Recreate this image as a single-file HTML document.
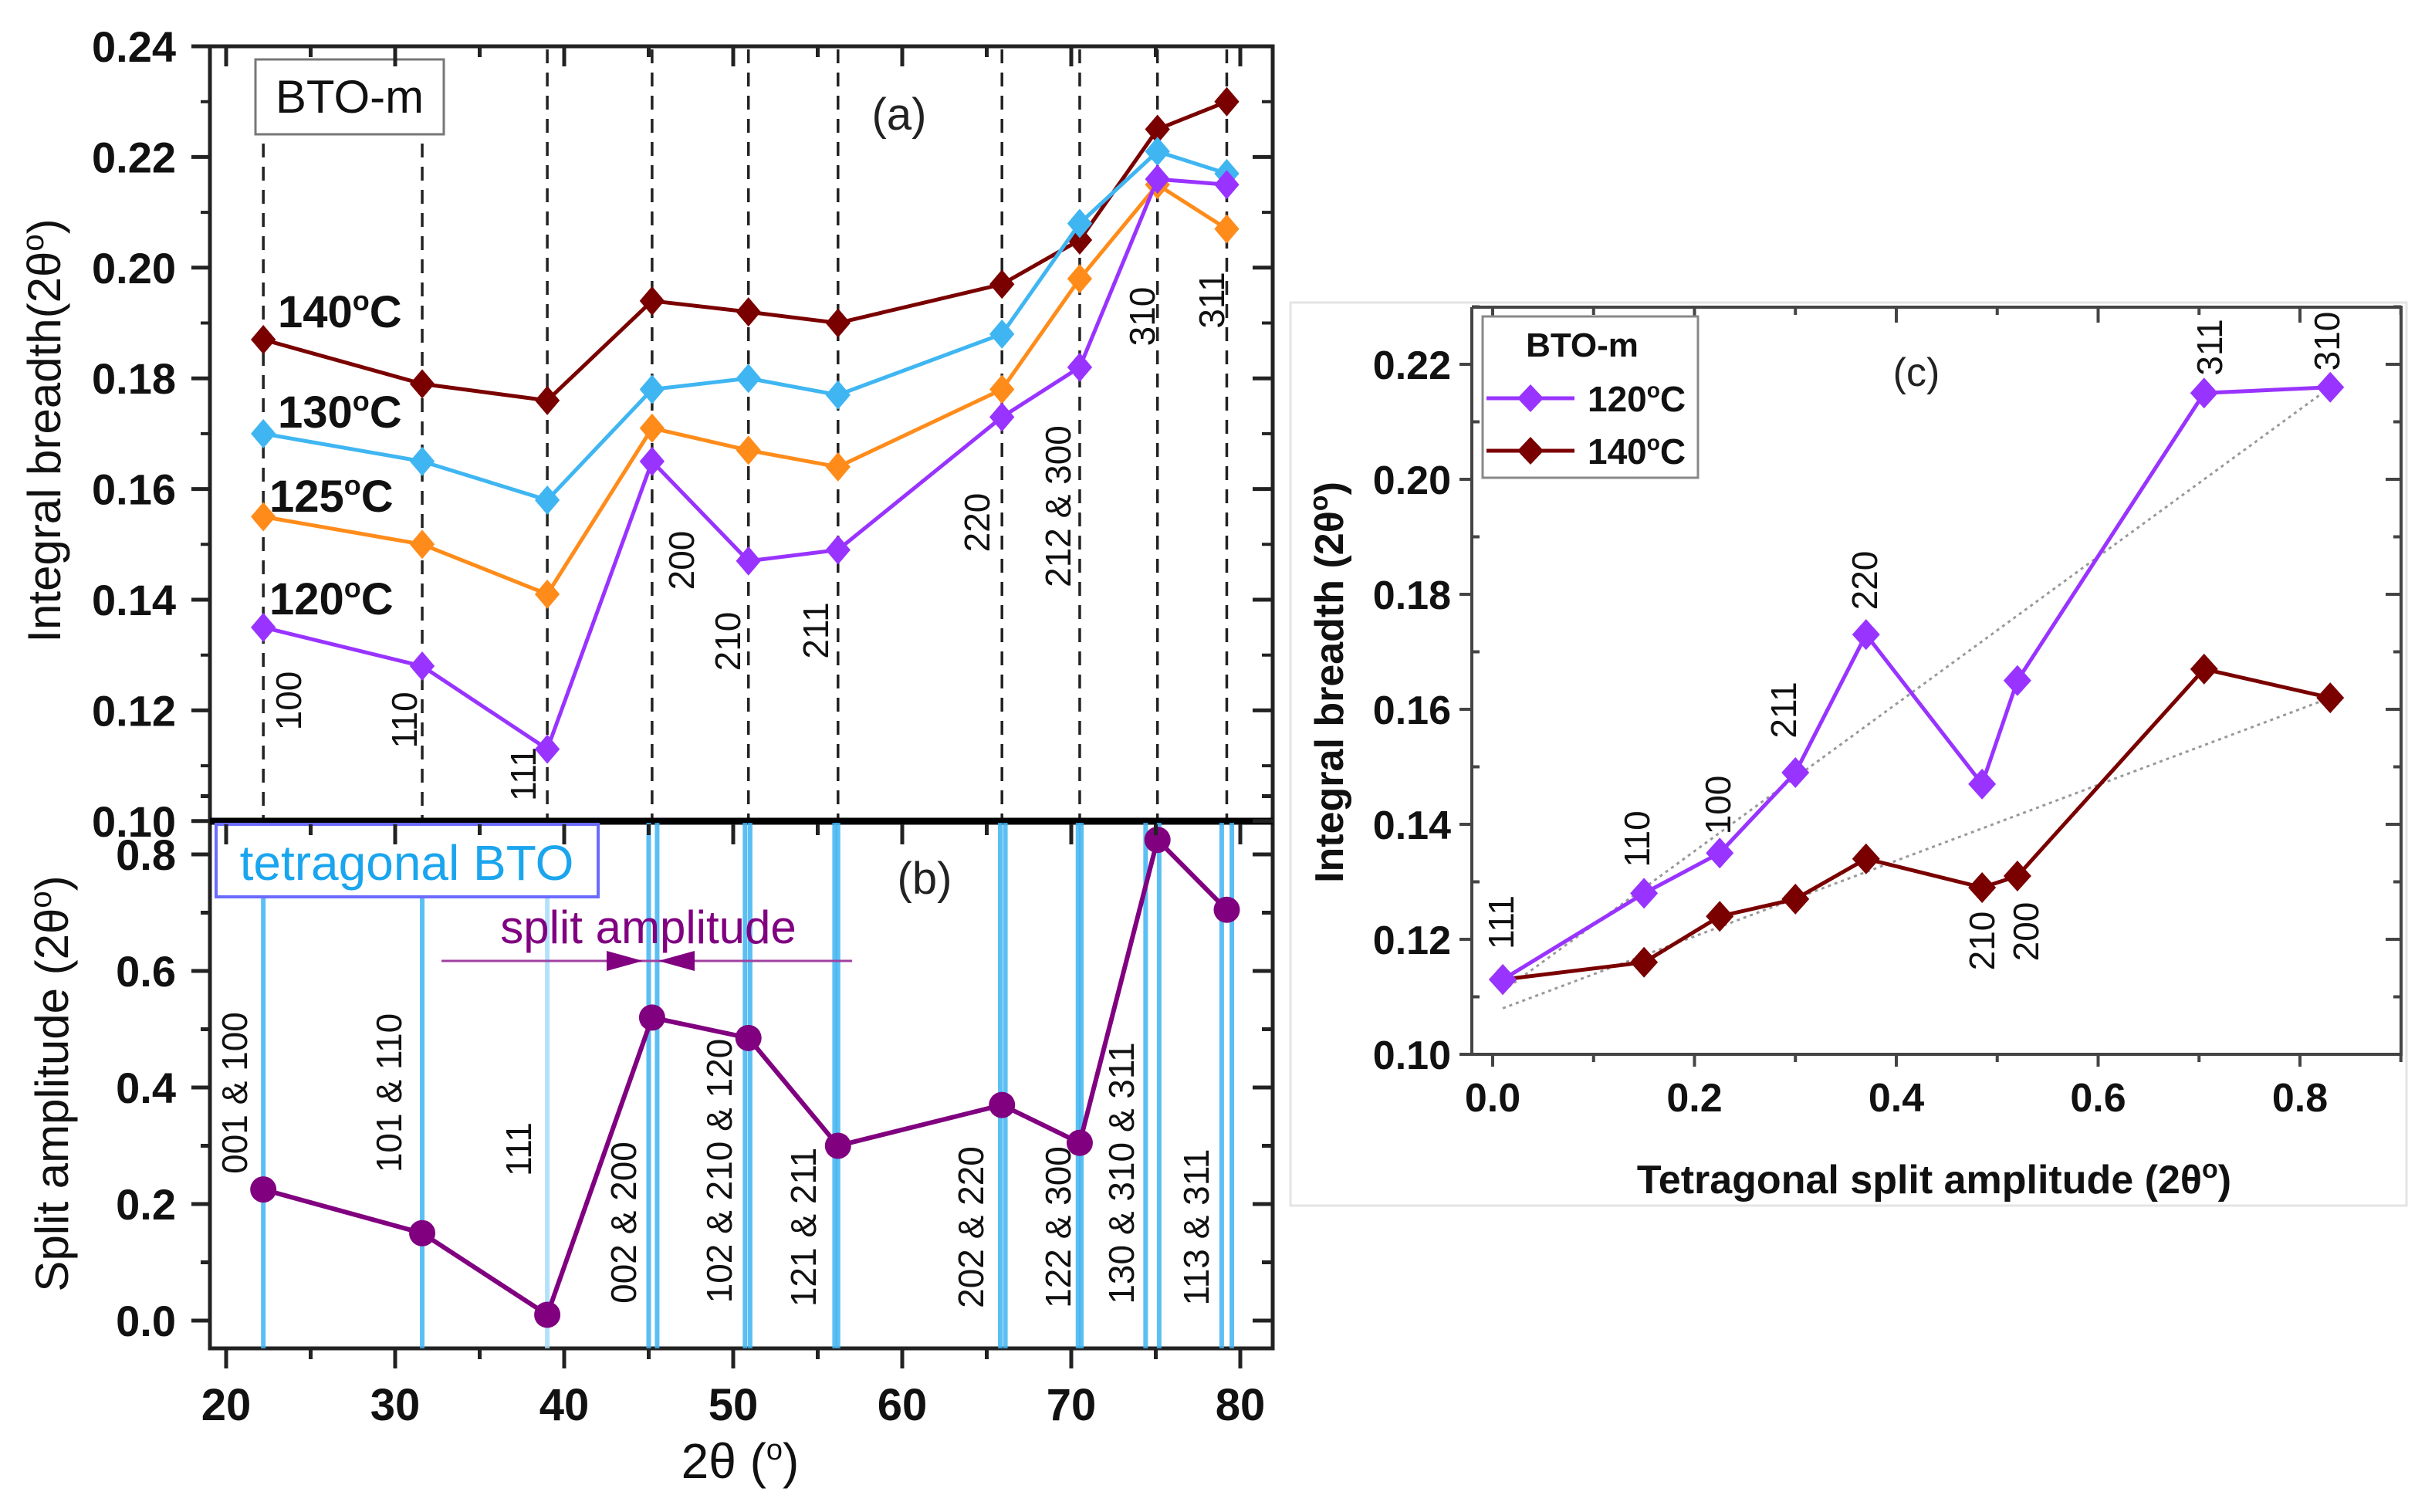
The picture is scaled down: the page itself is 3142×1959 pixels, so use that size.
<!DOCTYPE html>
<html><head><meta charset="utf-8"><style>
html,body{margin:0;padding:0;background:#fff;}
svg{display:block;font-family:"Liberation Sans",sans-serif;}
</style></head><body>
<svg id="fig" width="3142" height="1959" viewBox="0 0 3142 1959" xmlns="http://www.w3.org/2000/svg">
<rect x="0" y="0" width="3142" height="1959" fill="#fff"/>
<rect x="1672" y="392" width="1446" height="1170" fill="#fff" stroke="#e4e4e4" stroke-width="3"/>
<g id="gA"></g>
<g id="gB"></g>
<g id="gC"></g>
</svg>
<script>
// ---------- data ----------
const peakPos = [22.2, 31.6, 39.0, 45.2, 50.9, 56.2, 65.9, 70.5, 75.1, 79.2];
const peakLabelsA = ["100","110","111","200","210","211","220","212 & 300","310","311"];
const ib140 = [0.187, 0.179, 0.176, 0.194, 0.192, 0.190, 0.197, 0.205, 0.225, 0.230];
const ib130 = [0.170, 0.165, 0.158, 0.178, 0.180, 0.177, 0.188, 0.208, 0.221, 0.217];
const ib125 = [0.155, 0.150, 0.141, 0.171, 0.167, 0.164, 0.178, 0.198, 0.215, 0.207];
const ib120 = [0.135, 0.128, 0.113, 0.165, 0.147, 0.149, 0.173, 0.182, 0.216, 0.215];
const splitAmp = [0.225, 0.15, 0.01, 0.52, 0.485, 0.30, 0.37, 0.305, 0.825, 0.705];
const tetraLines = [22.2, 31.6, 39.0, 45.0, 45.5, 50.7, 51.0, 56.0, 56.2, 65.8, 66.1, 70.4, 70.6, 74.4, 75.2, 78.9, 79.5];
const peakLabelsB = ["001 & 100","101 & 110","111","002 & 200","102 & 210 & 120","121 & 211","202 & 220","122 & 300","130 & 310 & 311","113 & 311"];
const ticksA = [0.10,0.12,0.14,0.16,0.18,0.20,0.22,0.24];
const ticksB = [0.0,0.2,0.4,0.6,0.8];
const ticksX = [20,30,40,50,60,70,80];
const cX = [0.01, 0.15, 0.225, 0.30, 0.37, 0.485, 0.52, 0.705, 0.83];
const c120 = [0.113, 0.128, 0.135, 0.149, 0.173, 0.147, 0.165, 0.215, 0.216];
const c140 = [0.113, 0.116, 0.124, 0.127, 0.134, 0.129, 0.131, 0.167, 0.162];
const cLabels = ["111","110","100","211","220","210","200","311","310"];
const fit120 = [[0.01,0.111],[0.83,0.216]];
const fit140 = [[0.01,0.108],[0.83,0.162]];
const ticksCX = [0.0,0.2,0.4,0.6,0.8];
const ticksCY = [0.10,0.12,0.14,0.16,0.18,0.20,0.22];

const NS="http://www.w3.org/2000/svg";
function mk(parent,tag,attrs,text){const e=document.createElementNS(NS,tag);for(const k in attrs)e.setAttribute(k,attrs[k]);if(text!==undefined)e.textContent=text;parent.appendChild(e);return e;}

// ---------- scales ----------
const xAB = v => 293 + (v-20)*21.9;
const yA = v => 60 + (0.24-v)/0.02*143.4;
const yB = v => 1711 - v/0.2*151;
const xC = v => 1934 + v/0.2*261.5;
const yC = v => 1366 - (v-0.10)/0.02*149;
const L=272,R=1649;

const gA=document.getElementById('gA'),gB=document.getElementById('gB'),gC=document.getElementById('gC');

// ---------- panel B ----------
tetraLines.forEach((p,i)=>{
  const l=mk(gB,'line',{x1:xAB(p),x2:xAB(p),y1:1066,y2:1747,stroke:(i==2?'#a8dcfa':'#3fb4f2'),'stroke-width':6,opacity:0.85});
  
  
});
let t=mk(gB,'rect',{x:280,y:1068,width:495,height:94,fill:'#fff',stroke:'#6b6bff','stroke-width':4});

t=mk(gB,'text',{x:527,y:1140,'font-size':64,fill:'#1aa5ee','text-anchor':'middle'},'tetragonal BTO');

t=mk(gB,'text',{x:1198,y:1158,'font-size':58,fill:'#222','text-anchor':'middle'},'(b)');

t=mk(gB,'text',{x:840,y:1222,'font-size':60,fill:'#800080','text-anchor':'middle'},'split amplitude');

t=mk(gB,'line',{x1:572,x2:1104,y1:1245,y2:1245,stroke:'#a040a0','stroke-width':3});

t=mk(gB,'polygon',{points:'786,1232 833,1245 786,1258',fill:'#800080'});

t=mk(gB,'polygon',{points:'900,1232 853,1245 900,1258',fill:'#800080'});

const bLabPos=[[304,1416],[504,1416],[672,1489],[808,1584],[932,1517],[1041,1590],[1258,1590],[1371,1590],[1453,1520],[1550,1590]];
peakLabelsB.forEach((s,i)=>{
  const [cx,cy]=bLabPos[i];
  const e=mk(gB,'text',{x:cx,y:cy+16,'font-size':46,fill:'#111','text-anchor':'middle',transform:`rotate(-90 ${cx} ${cy})`},s);
  
  
});
t=mk(gB,'polyline',{points:peakPos.map((p,i)=>xAB(p)+','+yB(splitAmp[i])).join(' '),fill:'none',stroke:'#800080','stroke-width':6});

peakPos.forEach((p,i)=>{
  const c=mk(gB,'circle',{cx:xAB(p),cy:yB(splitAmp[i]),r:17,fill:'#800080'});
  
  
});

// ---------- panel A ----------
peakPos.forEach((p,i)=>{
  const l=mk(gA,'line',{x1:xAB(p),x2:xAB(p),y1:(i<2?186:64),y2:1062,stroke:'#222','stroke-width':3.5,'stroke-dasharray':'18 12'});
  
  
});
const aLabPos=[[374,908],[524,933],[678,1003],[883,726],[943,831],[1057,817],[1266,677],[1371,656],[1480,410],[1570,389]];
peakLabelsA.forEach((s,i)=>{
  const [cx,cy]=aLabPos[i];
  const e=mk(gA,'text',{x:cx,y:cy+16,'font-size':46,fill:'#111','text-anchor':'middle',transform:`rotate(-90 ${cx} ${cy})`},s);
  
  
});
const seriesA=[[ib140,'#7a0000','series-140c'],[ib130,'#3fb6f2','series-130c'],[ib125,'#ff8c1a','series-125c'],[ib120,'#9933ff','series-120c']];
seriesA.forEach(([d,col,nm])=>{
  const pl=mk(gA,'polyline',{points:peakPos.map((p,i)=>xAB(p)+','+yA(d[i])).join(' '),fill:'none',stroke:col,'stroke-width':5});
  
  
  peakPos.forEach((p,i)=>{
    const x=xAB(p),y=yA(d[i]),s=19;
    const m=mk(gA,'polygon',{points:`${x},${y-s} ${x+s*0.85},${y} ${x},${y+s} ${x-s*0.85},${y}`,fill:col});
    
    
  });
});
const tempLabs=[['140','#000',360,424],['130','#000',360,554],['125','#000',349,663],['120','#000',349,796]];
tempLabs.forEach(([s,c,x,y])=>{
  const e=mk(gA,'text',{x:x,y:y,'font-size':58,'font-weight':'bold',fill:'#111'});
  e.innerHTML=s+'<tspan dy="-22" font-size="36">o</tspan><tspan dy="22">C</tspan>';
  
  
});
t=mk(gA,'rect',{x:331,y:77,width:244,height:97,fill:'#fff',stroke:'#777','stroke-width':3});

t=mk(gA,'text',{x:453,y:146,'font-size':60,fill:'#111','text-anchor':'middle'},'BTO-m');

t=mk(gA,'text',{x:1165,y:168,'font-size':58,fill:'#222','text-anchor':'middle'},'(a)');


// ---------- axes A/B ----------
t=mk(gA,'rect',{x:L,y:60,width:R-L,height:1687,fill:'none',stroke:'#222','stroke-width':5});

t=mk(gA,'line',{x1:L,x2:R,y1:1064,y2:1064,stroke:'#000','stroke-width':9});

ticksA.forEach(v=>{
  const y=yA(v);
  const tk=mk(gA,'path',{d:`M${L-24},${y}H${L} M${R-26},${y}H${R}`,stroke:'#222','stroke-width':5});
  
  if(v<0.235){const m=mk(gA,'path',{d:`M${L-12},${y-71.7}H${L} M${R-14},${y-71.7}H${R}`,stroke:'#222','stroke-width':4});
  }
  const e=mk(gA,'text',{x:228,y:y+20,'font-size':56,'font-weight':'bold','text-anchor':'end',fill:'#111'},v.toFixed(2));
  
});
ticksB.forEach(v=>{
  const y=yB(v);
  const tk=mk(gB,'path',{d:`M${L-24},${y}H${L} M${R-26},${y}H${R} M${L-12},${y-75.5}H${L} M${R-14},${y-75.5}H${R}`,stroke:'#222','stroke-width':5});
  
  const e=mk(gB,'text',{x:228,y:y+20,'font-size':56,'font-weight':'bold','text-anchor':'end',fill:'#111'},v.toFixed(1));
  
});
ticksX.forEach((v,i)=>{
  const x=xAB(v);
  let d=`M${x},1747v26 M${x},60v26 M${x},1068v26`;
  if(i<ticksX.length-1){const xm=xAB(v+5);d+=` M${xm},1747v14 M${xm},60v14 M${xm},1068v14`;}
  const tk=mk(gB,'path',{d:d,stroke:'#222','stroke-width':5});
  
  const e=mk(gB,'text',{x:x,y:1840,'font-size':58,'font-weight':'bold','text-anchor':'middle',fill:'#111'},String(v));
  
});
t=mk(gB,'text',{x:959,y:1915,'font-size':64,'text-anchor':'middle',fill:'#111'});
t.innerHTML='2θ (<tspan dy="-24" font-size="38">o</tspan><tspan dy="24">)</tspan>';

t=mk(gA,'text',{x:0,y:0,'font-size':60,'text-anchor':'middle',fill:'#111',transform:'translate(78 558) rotate(-90)'});
t.innerHTML='Integral breadth(2θ<tspan dy="-22" font-size="40">o</tspan><tspan dy="22">)</tspan>';

t=mk(gB,'text',{x:0,y:0,'font-size':60,'text-anchor':'middle',fill:'#111',transform:'translate(88 1404) rotate(-90)'});
t.innerHTML='Split amplitude (2θ<tspan dy="-22" font-size="40">o</tspan><tspan dy="22">)</tspan>';


// ---------- panel C ----------
const CL=1907,CR=3111,CT=398,CB=1366;
[fit120,fit140].forEach((f,k)=>{
  const l=mk(gC,'line',{x1:xC(f[0][0]),y1:yC(f[0][1]),x2:xC(f[1][0]),y2:yC(f[1][1]),stroke:'#999','stroke-width':3,'stroke-dasharray':'4 5'});
  
  
});
[[c140,'#7a0000','c-series-140c'],[c120,'#9933ff','c-series-120c']].forEach(([d,col,nm])=>{
  const pl=mk(gC,'polyline',{points:cX.map((v,i)=>xC(v)+','+yC(d[i])).join(' '),fill:'none',stroke:col,'stroke-width':5});
  
  
  cX.forEach((v,i)=>{
    const x=xC(v),y=yC(d[i]),s=20;
    const m=mk(gC,'polygon',{points:`${x},${y-s} ${x+s*0.9},${y} ${x},${y+s} ${x-s*0.9},${y}`,fill:col});
    
    
  });
});
const cLabPos=[[1945,1195],[2121,1087],[2226,1043],[2311,920],[2416,752],[2568,1219],[2625,1207],[2863,450],[3015,442]];
cLabels.forEach((s,i)=>{
  const [cx,cy]=cLabPos[i];
  const e=mk(gC,'text',{x:cx,y:cy+16,'font-size':46,fill:'#111','text-anchor':'middle',transform:`rotate(-90 ${cx} ${cy})`},s);
  
  
});
t=mk(gC,'path',{d:`M${CL},${CT}V${CB}H${CR}V${CT}H${CL}`,fill:'none',stroke:'#444','stroke-width':4});

ticksCY.forEach(v=>{
  const y=yC(v);
  const tk=mk(gC,'path',{d:`M${CL-16},${y}H${CL} M${CR-20},${y}H${CR} M${CL},${y-74.5}h10 M${CR-10},${y-74.5}H${CR}`,stroke:'#444','stroke-width':4});
  
  const e=mk(gC,'text',{x:1880,y:y+19,'font-size':52,'font-weight':'bold','text-anchor':'end',fill:'#111'},v.toFixed(2));
  
});
ticksCX.forEach(v=>{
  const x=xC(v);
  const tk=mk(gC,'path',{d:`M${x},${CB}v16 M${x},${CT}v20 M${x+130.75},${CB}v10 M${x+130.75},${CT}v10`,stroke:'#444','stroke-width':4});
  
  const e=mk(gC,'text',{x:x,y:1440,'font-size':52,'font-weight':'bold','text-anchor':'middle',fill:'#111'},v.toFixed(1));
  
});
t=mk(gC,'text',{x:2506,y:1546,'font-size':52,'font-weight':'bold','text-anchor':'middle',fill:'#111'});
t.innerHTML='Tetragonal split amplitude (2θ<tspan dy="-20" font-size="34">o</tspan><tspan dy="20">)</tspan>';

t=mk(gC,'text',{x:0,y:0,'font-size':52,'font-weight':'bold','text-anchor':'middle',fill:'#111',transform:'translate(1740 884) rotate(-90)'});
t.innerHTML='Integral breadth (2θ<tspan dy="-20" font-size="34">o</tspan><tspan dy="20">)</tspan>';

t=mk(gC,'text',{x:2483,y:500,'font-size':52,'text-anchor':'middle',fill:'#222'},'(c)');

// legend
t=mk(gC,'rect',{x:1921,y:410,width:279,height:209,fill:'#fff',stroke:'#888','stroke-width':3});

t=mk(gC,'text',{x:2050,y:462,'font-size':44,'font-weight':'bold','text-anchor':'middle',fill:'#111'},'BTO-m');

[['120','#9933ff',516],['140','#7a0000',584]].forEach(([s,col,y])=>{
  const g=mk(gC,'g',{});
  
  
  mk(g,'line',{x1:1926,x2:2040,y1:y,y2:y,stroke:col,'stroke-width':5});
  mk(g,'polygon',{points:`1983,${y-18} 2000,${y} 1983,${y+18} 1966,${y}`,fill:col});
  const e=mk(g,'text',{x:2057,y:y+17,'font-size':46,'font-weight':'bold',fill:'#111'});
  e.innerHTML=s+'<tspan dy="-18" font-size="28">o</tspan><tspan dy="18">C</tspan>';
});
</script>
</body></html>
